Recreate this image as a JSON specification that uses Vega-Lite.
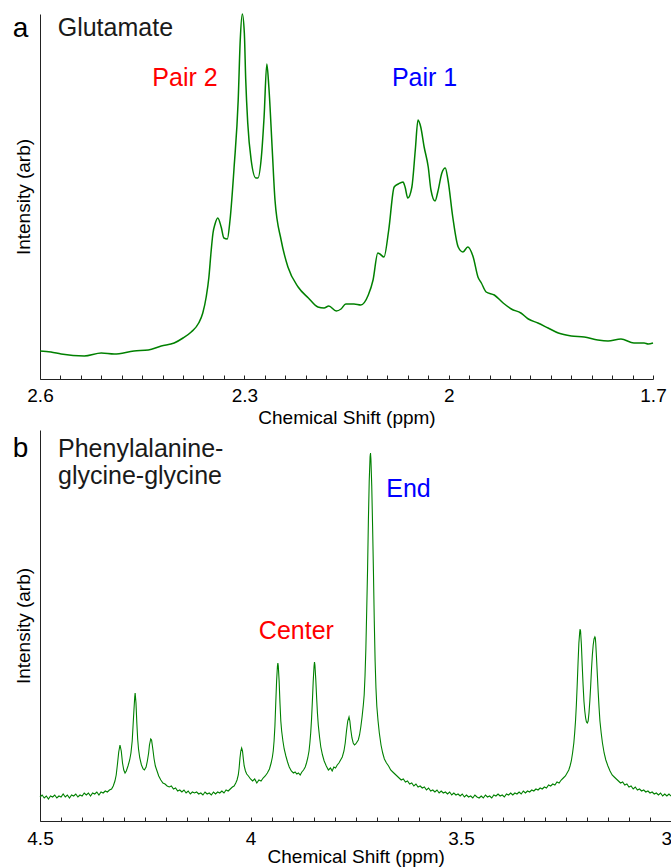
{
  "$schema": "https://vega.github.io/schema/vega-lite/v6.json",
  "padding": {"left": 12, "top": 11, "right": 0, "bottom": 0},
  "bounds": "flush",
  "spacing": 51,
  "config": {"view": {"stroke": null}},
  "datasets": {
    "glu": [
      {"ppm":2.600,"intensity":28},{"ppm":2.584,"intensity":27},{"ppm":2.569,"intensity":25},{"ppm":2.535,"intensity":23},{"ppm":2.510,"intensity":26},{"ppm":2.491,"intensity":25},{"ppm":2.462,"intensity":28},{"ppm":2.441,"intensity":29},{"ppm":2.422,"intensity":33},{"ppm":2.403,"intensity":36},{"ppm":2.390,"intensity":41},{"ppm":2.378,"intensity":47},{"ppm":2.367,"intensity":56},{"ppm":2.361,"intensity":66},{"ppm":2.356,"intensity":82},{"ppm":2.352,"intensity":102},{"ppm":2.349,"intensity":126},{"ppm":2.346,"intensity":146},{"ppm":2.343,"intensity":155},{"ppm":2.339,"intensity":161},{"ppm":2.334,"intensity":152},{"ppm":2.330,"intensity":141},{"ppm":2.325,"intensity":140},{"ppm":2.321,"intensity":159},{"ppm":2.315,"intensity":212},{"ppm":2.309,"intensity":279},{"ppm":2.306,"intensity":339},{"ppm":2.303,"intensity":365},{"ppm":2.300,"intensity":346},{"ppm":2.298,"intensity":300},{"ppm":2.295,"intensity":256},{"ppm":2.290,"intensity":219},{"ppm":2.283,"intensity":201},{"ppm":2.280,"intensity":201},{"ppm":2.275,"intensity":222},{"ppm":2.271,"intensity":262},{"ppm":2.267,"intensity":315},{"ppm":2.264,"intensity":292},{"ppm":2.259,"intensity":229},{"ppm":2.255,"intensity":179},{"ppm":2.246,"intensity":139},{"ppm":2.236,"intensity":112},{"ppm":2.221,"intensity":92},{"ppm":2.206,"intensity":81},{"ppm":2.192,"intensity":72},{"ppm":2.183,"intensity":71},{"ppm":2.176,"intensity":73},{"ppm":2.165,"intensity":68},{"ppm":2.158,"intensity":70},{"ppm":2.151,"intensity":75},{"ppm":2.139,"intensity":75},{"ppm":2.129,"intensity":74},{"ppm":2.118,"intensity":84},{"ppm":2.111,"intensity":99},{"ppm":2.104,"intensity":126},{"ppm":2.101,"intensity":125},{"ppm":2.095,"intensity":122},{"ppm":2.088,"intensity":149},{"ppm":2.080,"intensity":192},{"ppm":2.074,"intensity":195},{"ppm":2.067,"intensity":197},{"ppm":2.064,"intensity":192},{"ppm":2.060,"intensity":181},{"ppm":2.054,"intensity":192},{"ppm":2.049,"intensity":229},{"ppm":2.045,"intensity":259},{"ppm":2.041,"intensity":252},{"ppm":2.036,"intensity":232},{"ppm":2.030,"intensity":212},{"ppm":2.026,"intensity":189},{"ppm":2.020,"intensity":178},{"ppm":2.016,"intensity":187},{"ppm":2.010,"intensity":206},{"ppm":2.005,"intensity":211},{"ppm":2.001,"intensity":199},{"ppm":1.994,"intensity":162},{"ppm":1.986,"intensity":132},{"ppm":1.979,"intensity":127},{"ppm":1.972,"intensity":132},{"ppm":1.964,"intensity":122},{"ppm":1.957,"intensity":102},{"ppm":1.952,"intensity":96},{"ppm":1.945,"intensity":87},{"ppm":1.933,"intensity":84},{"ppm":1.920,"intensity":76},{"ppm":1.908,"intensity":70},{"ppm":1.894,"intensity":66},{"ppm":1.883,"intensity":60},{"ppm":1.869,"intensity":56},{"ppm":1.854,"intensity":51},{"ppm":1.839,"intensity":46},{"ppm":1.820,"intensity":43},{"ppm":1.801,"intensity":42},{"ppm":1.781,"intensity":39},{"ppm":1.766,"intensity":38},{"ppm":1.747,"intensity":40},{"ppm":1.728,"intensity":36},{"ppm":1.713,"intensity":36},{"ppm":1.707,"intensity":35},{"ppm":1.700,"intensity":36}
    ],
    "fgg": [
      {"ppm":4.500,"intensity":24},{"ppm":4.495,"intensity":26},{"ppm":4.490,"intensity":23},{"ppm":4.485,"intensity":25},{"ppm":4.480,"intensity":22},{"ppm":4.475,"intensity":25},{"ppm":4.470,"intensity":24},{"ppm":4.465,"intensity":26},{"ppm":4.460,"intensity":23},{"ppm":4.455,"intensity":25},{"ppm":4.450,"intensity":24},{"ppm":4.445,"intensity":27},{"ppm":4.440,"intensity":24},{"ppm":4.435,"intensity":26},{"ppm":4.430,"intensity":23},{"ppm":4.425,"intensity":26},{"ppm":4.420,"intensity":25},{"ppm":4.415,"intensity":27},{"ppm":4.410,"intensity":24},{"ppm":4.405,"intensity":26},{"ppm":4.400,"intensity":25},{"ppm":4.395,"intensity":28},{"ppm":4.390,"intensity":26},{"ppm":4.385,"intensity":28},{"ppm":4.380,"intensity":25},{"ppm":4.375,"intensity":28},{"ppm":4.370,"intensity":27},{"ppm":4.365,"intensity":29},{"ppm":4.360,"intensity":26},{"ppm":4.355,"intensity":29},{"ppm":4.350,"intensity":28},{"ppm":4.345,"intensity":30},{"ppm":4.340,"intensity":29},{"ppm":4.335,"intensity":31},{"ppm":4.330,"intensity":32},{"ppm":4.326,"intensity":35},{"ppm":4.322,"intensity":40},{"ppm":4.319,"intensity":46},{"ppm":4.316,"intensity":57},{"ppm":4.313,"intensity":69},{"ppm":4.310,"intensity":76},{"ppm":4.307,"intensity":70},{"ppm":4.304,"intensity":58},{"ppm":4.301,"intensity":51},{"ppm":4.298,"intensity":48},{"ppm":4.295,"intensity":50},{"ppm":4.291,"intensity":55},{"ppm":4.287,"intensity":61},{"ppm":4.284,"intensity":68},{"ppm":4.281,"intensity":80},{"ppm":4.279,"intensity":95},{"ppm":4.277,"intensity":110},{"ppm":4.275,"intensity":124},{"ppm":4.274,"intensity":128},{"ppm":4.272,"intensity":118},{"ppm":4.270,"intensity":98},{"ppm":4.268,"intensity":82},{"ppm":4.266,"intensity":72},{"ppm":4.263,"intensity":63},{"ppm":4.259,"intensity":56},{"ppm":4.255,"intensity":52},{"ppm":4.252,"intensity":51},{"ppm":4.248,"intensity":54},{"ppm":4.245,"intensity":60},{"ppm":4.242,"intensity":68},{"ppm":4.240,"intensity":76},{"ppm":4.237,"intensity":82},{"ppm":4.235,"intensity":81},{"ppm":4.232,"intensity":72},{"ppm":4.229,"intensity":62},{"ppm":4.226,"intensity":55},{"ppm":4.222,"intensity":50},{"ppm":4.218,"intensity":45},{"ppm":4.213,"intensity":41},{"ppm":4.208,"intensity":38},{"ppm":4.203,"intensity":37},{"ppm":4.198,"intensity":35},{"ppm":4.193,"intensity":34},{"ppm":4.188,"intensity":35},{"ppm":4.183,"intensity":32},{"ppm":4.178,"intensity":33},{"ppm":4.173,"intensity":30},{"ppm":4.168,"intensity":31},{"ppm":4.163,"intensity":29},{"ppm":4.158,"intensity":31},{"ppm":4.153,"intensity":28},{"ppm":4.148,"intensity":30},{"ppm":4.143,"intensity":27},{"ppm":4.138,"intensity":29},{"ppm":4.133,"intensity":28},{"ppm":4.128,"intensity":29},{"ppm":4.123,"intensity":27},{"ppm":4.118,"intensity":28},{"ppm":4.113,"intensity":26},{"ppm":4.108,"intensity":29},{"ppm":4.103,"intensity":27},{"ppm":4.098,"intensity":28},{"ppm":4.093,"intensity":26},{"ppm":4.088,"intensity":29},{"ppm":4.083,"intensity":27},{"ppm":4.078,"intensity":29},{"ppm":4.073,"intensity":28},{"ppm":4.068,"intensity":30},{"ppm":4.063,"intensity":28},{"ppm":4.058,"intensity":31},{"ppm":4.053,"intensity":30},{"ppm":4.048,"intensity":32},{"ppm":4.043,"intensity":34},{"ppm":4.039,"intensity":35},{"ppm":4.035,"intensity":38},{"ppm":4.032,"intensity":41},{"ppm":4.029,"intensity":46},{"ppm":4.027,"intensity":53},{"ppm":4.025,"intensity":63},{"ppm":4.023,"intensity":70},{"ppm":4.021,"intensity":73},{"ppm":4.019,"intensity":70},{"ppm":4.017,"intensity":62},{"ppm":4.015,"intensity":55},{"ppm":4.012,"intensity":50},{"ppm":4.009,"intensity":47},{"ppm":4.005,"intensity":45},{"ppm":4.000,"intensity":42},{"ppm":3.995,"intensity":40},{"ppm":3.990,"intensity":42},{"ppm":3.985,"intensity":38},{"ppm":3.980,"intensity":41},{"ppm":3.975,"intensity":40},{"ppm":3.970,"intensity":43},{"ppm":3.965,"intensity":45},{"ppm":3.960,"intensity":48},{"ppm":3.955,"intensity":52},{"ppm":3.951,"intensity":58},{"ppm":3.948,"intensity":64},{"ppm":3.946,"intensity":70},{"ppm":3.944,"intensity":80},{"ppm":3.942,"intensity":95},{"ppm":3.940,"intensity":118},{"ppm":3.938,"intensity":140},{"ppm":3.936,"intensity":155},{"ppm":3.935,"intensity":158},{"ppm":3.934,"intensity":155},{"ppm":3.932,"intensity":140},{"ppm":3.930,"intensity":118},{"ppm":3.928,"intensity":100},{"ppm":3.926,"intensity":90},{"ppm":3.923,"intensity":80},{"ppm":3.920,"intensity":72},{"ppm":3.916,"intensity":65},{"ppm":3.912,"intensity":59},{"ppm":3.908,"intensity":54},{"ppm":3.903,"intensity":50},{"ppm":3.898,"intensity":48},{"ppm":3.894,"intensity":49},{"ppm":3.890,"intensity":47},{"ppm":3.886,"intensity":48},{"ppm":3.882,"intensity":46},{"ppm":3.878,"intensity":49},{"ppm":3.874,"intensity":51},{"ppm":3.870,"intensity":54},{"ppm":3.867,"intensity":58},{"ppm":3.864,"intensity":63},{"ppm":3.861,"intensity":70},{"ppm":3.859,"intensity":78},{"ppm":3.857,"intensity":88},{"ppm":3.855,"intensity":102},{"ppm":3.853,"intensity":120},{"ppm":3.851,"intensity":140},{"ppm":3.849,"intensity":155},{"ppm":3.848,"intensity":159},{"ppm":3.847,"intensity":156},{"ppm":3.845,"intensity":142},{"ppm":3.843,"intensity":124},{"ppm":3.841,"intensity":108},{"ppm":3.839,"intensity":96},{"ppm":3.836,"intensity":84},{"ppm":3.833,"intensity":74},{"ppm":3.829,"intensity":66},{"ppm":3.825,"intensity":60},{"ppm":3.820,"intensity":55},{"ppm":3.815,"intensity":51},{"ppm":3.810,"intensity":53},{"ppm":3.806,"intensity":50},{"ppm":3.802,"intensity":54},{"ppm":3.798,"intensity":53},{"ppm":3.794,"intensity":56},{"ppm":3.790,"intensity":58},{"ppm":3.786,"intensity":61},{"ppm":3.782,"intensity":64},{"ppm":3.778,"intensity":70},{"ppm":3.775,"intensity":78},{"ppm":3.772,"intensity":90},{"ppm":3.769,"intensity":100},{"ppm":3.766,"intensity":104},{"ppm":3.764,"intensity":100},{"ppm":3.762,"intensity":92},{"ppm":3.759,"intensity":83},{"ppm":3.756,"intensity":78},{"ppm":3.753,"intensity":76},{"ppm":3.750,"intensity":77},{"ppm":3.747,"intensity":79},{"ppm":3.744,"intensity":81},{"ppm":3.741,"intensity":86},{"ppm":3.738,"intensity":94},{"ppm":3.735,"intensity":104},{"ppm":3.732,"intensity":116},{"ppm":3.730,"intensity":126},{"ppm":3.728,"intensity":145},{"ppm":3.726,"intensity":172},{"ppm":3.724,"intensity":210},{"ppm":3.722,"intensity":250},{"ppm":3.720,"intensity":300},{"ppm":3.718,"intensity":340},{"ppm":3.716,"intensity":364},{"ppm":3.715,"intensity":368},{"ppm":3.714,"intensity":362},{"ppm":3.712,"intensity":335},{"ppm":3.710,"intensity":295},{"ppm":3.708,"intensity":250},{"ppm":3.706,"intensity":200},{"ppm":3.704,"intensity":160},{"ppm":3.702,"intensity":133},{"ppm":3.700,"intensity":115},{"ppm":3.697,"intensity":100},{"ppm":3.694,"intensity":88},{"ppm":3.690,"intensity":76},{"ppm":3.686,"intensity":68},{"ppm":3.682,"intensity":62},{"ppm":3.677,"intensity":58},{"ppm":3.672,"intensity":55},{"ppm":3.667,"intensity":51},{"ppm":3.662,"intensity":49},{"ppm":3.657,"intensity":47},{"ppm":3.652,"intensity":45},{"ppm":3.647,"intensity":43},{"ppm":3.642,"intensity":41},{"ppm":3.637,"intensity":42},{"ppm":3.632,"intensity":39},{"ppm":3.627,"intensity":40},{"ppm":3.622,"intensity":37},{"ppm":3.617,"intensity":38},{"ppm":3.612,"intensity":35},{"ppm":3.607,"intensity":37},{"ppm":3.602,"intensity":34},{"ppm":3.597,"intensity":35},{"ppm":3.592,"intensity":33},{"ppm":3.587,"intensity":34},{"ppm":3.582,"intensity":31},{"ppm":3.577,"intensity":33},{"ppm":3.572,"intensity":30},{"ppm":3.567,"intensity":31},{"ppm":3.562,"intensity":29},{"ppm":3.557,"intensity":31},{"ppm":3.552,"intensity":28},{"ppm":3.547,"intensity":30},{"ppm":3.542,"intensity":28},{"ppm":3.537,"intensity":29},{"ppm":3.532,"intensity":27},{"ppm":3.527,"intensity":29},{"ppm":3.522,"intensity":26},{"ppm":3.517,"intensity":28},{"ppm":3.512,"intensity":26},{"ppm":3.507,"intensity":27},{"ppm":3.502,"intensity":25},{"ppm":3.497,"intensity":27},{"ppm":3.492,"intensity":24},{"ppm":3.487,"intensity":26},{"ppm":3.482,"intensity":24},{"ppm":3.477,"intensity":25},{"ppm":3.472,"intensity":23},{"ppm":3.467,"intensity":26},{"ppm":3.462,"intensity":24},{"ppm":3.457,"intensity":23},{"ppm":3.452,"intensity":25},{"ppm":3.447,"intensity":23},{"ppm":3.442,"intensity":26},{"ppm":3.437,"intensity":24},{"ppm":3.432,"intensity":25},{"ppm":3.427,"intensity":23},{"ppm":3.422,"intensity":26},{"ppm":3.417,"intensity":25},{"ppm":3.412,"intensity":27},{"ppm":3.407,"intensity":25},{"ppm":3.402,"intensity":26},{"ppm":3.397,"intensity":24},{"ppm":3.392,"intensity":27},{"ppm":3.387,"intensity":26},{"ppm":3.382,"intensity":28},{"ppm":3.377,"intensity":26},{"ppm":3.372,"intensity":28},{"ppm":3.367,"intensity":27},{"ppm":3.362,"intensity":29},{"ppm":3.357,"intensity":27},{"ppm":3.352,"intensity":30},{"ppm":3.347,"intensity":28},{"ppm":3.342,"intensity":30},{"ppm":3.337,"intensity":29},{"ppm":3.332,"intensity":31},{"ppm":3.327,"intensity":30},{"ppm":3.322,"intensity":32},{"ppm":3.317,"intensity":31},{"ppm":3.312,"intensity":33},{"ppm":3.307,"intensity":32},{"ppm":3.302,"intensity":34},{"ppm":3.297,"intensity":33},{"ppm":3.292,"intensity":36},{"ppm":3.287,"intensity":35},{"ppm":3.282,"intensity":37},{"ppm":3.277,"intensity":36},{"ppm":3.272,"intensity":39},{"ppm":3.267,"intensity":38},{"ppm":3.262,"intensity":41},{"ppm":3.257,"intensity":43},{"ppm":3.252,"intensity":45},{"ppm":3.248,"intensity":48},{"ppm":3.244,"intensity":51},{"ppm":3.241,"intensity":55},{"ppm":3.238,"intensity":60},{"ppm":3.235,"intensity":68},{"ppm":3.232,"intensity":78},{"ppm":3.230,"intensity":88},{"ppm":3.228,"intensity":100},{"ppm":3.226,"intensity":116},{"ppm":3.224,"intensity":136},{"ppm":3.222,"intensity":158},{"ppm":3.220,"intensity":178},{"ppm":3.218,"intensity":189},{"ppm":3.217,"intensity":192},{"ppm":3.216,"intensity":190},{"ppm":3.214,"intensity":176},{"ppm":3.212,"intensity":155},{"ppm":3.210,"intensity":136},{"ppm":3.208,"intensity":120},{"ppm":3.206,"intensity":110},{"ppm":3.204,"intensity":103},{"ppm":3.202,"intensity":99},{"ppm":3.200,"intensity":98},{"ppm":3.198,"intensity":100},{"ppm":3.196,"intensity":108},{"ppm":3.194,"intensity":120},{"ppm":3.192,"intensity":135},{"ppm":3.190,"intensity":152},{"ppm":3.188,"intensity":166},{"ppm":3.186,"intensity":176},{"ppm":3.184,"intensity":182},{"ppm":3.182,"intensity":184},{"ppm":3.181,"intensity":183},{"ppm":3.180,"intensity":178},{"ppm":3.178,"intensity":162},{"ppm":3.176,"intensity":145},{"ppm":3.174,"intensity":128},{"ppm":3.172,"intensity":113},{"ppm":3.170,"intensity":100},{"ppm":3.167,"intensity":88},{"ppm":3.164,"intensity":78},{"ppm":3.160,"intensity":68},{"ppm":3.156,"intensity":61},{"ppm":3.151,"intensity":55},{"ppm":3.146,"intensity":50},{"ppm":3.141,"intensity":46},{"ppm":3.136,"intensity":44},{"ppm":3.131,"intensity":42},{"ppm":3.126,"intensity":40},{"ppm":3.121,"intensity":38},{"ppm":3.116,"intensity":39},{"ppm":3.111,"intensity":36},{"ppm":3.106,"intensity":37},{"ppm":3.101,"intensity":34},{"ppm":3.096,"intensity":35},{"ppm":3.091,"intensity":32},{"ppm":3.086,"intensity":34},{"ppm":3.081,"intensity":31},{"ppm":3.076,"intensity":32},{"ppm":3.071,"intensity":30},{"ppm":3.066,"intensity":31},{"ppm":3.061,"intensity":29},{"ppm":3.056,"intensity":30},{"ppm":3.051,"intensity":28},{"ppm":3.046,"intensity":29},{"ppm":3.041,"intensity":27},{"ppm":3.036,"intensity":28},{"ppm":3.031,"intensity":26},{"ppm":3.026,"intensity":28},{"ppm":3.021,"intensity":25},{"ppm":3.016,"intensity":27},{"ppm":3.011,"intensity":25},{"ppm":3.006,"intensity":27},{"ppm":3.001,"intensity":25}
    ]
  },
  "vconcat": [
    {
      "width": 613,
      "height": 365,
      "encoding": {
        "x": {
          "field": "ppm", "type": "quantitative",
          "scale": {"domain": [1.7, 2.6], "reverse": true, "nice": false, "zero": false},
          "axis": {
            "values": [2.6,2.57,2.54,2.51,2.48,2.45,2.42,2.39,2.36,2.33,2.3,2.27,2.24,2.21,2.18,2.15,2.12,2.09,2.06,2.03,2,1.97,1.94,1.91,1.88,1.85,1.82,1.79,1.76,1.73,1.7],
            "title": "Chemical Shift (ppm)",
            "grid": false,
            "tickSize": -4,
            "tickColor": "#222",
            "tickWidth": 1,
            "domainColor": "#222",
            "domainWidth": 1,
            "labelPadding": 11,
            "labelFlush": false,
            "labelOverlap": false,
            "labelFont": "Liberation Sans",
            "labelFontSize": 19,
            "labelColor": "#000",
            "labelExpr": "indexof([2.6,2.3,2,1.7], datum.value) >= 0 ? '' + datum.value : ''",
            "titleFont": "Liberation Sans",
            "titleFontSize": 19,
            "titleFontWeight": "normal",
            "titleColor": "#000",
            "titleBaseline": "alphabetic",
            "titleY": 44.5,
            "encode": {"ticks": {"update": {"y2": [{"test": "indexof([2.6,2.3,2,1.7], datum.value) >= 0", "value": -7}, {"value": -4}]}}}
          }
        },
        "y": {
          "field": "intensity", "type": "quantitative",
          "scale": {"domain": [0, 365], "nice": false},
          "axis": {
            "title": "Intensity (arb)",
            "ticks": false, "labels": false, "grid": false,
            "domainColor": "#222", "domainWidth": 1,
            "titleFont": "Liberation Sans", "titleFontSize": 19, "titleFontWeight": "normal", "titleColor": "#000",
            "titlePadding": 7
          }
        }
      },
      "layer": [
        {"data": {"name": "glu"}, "mark": {"type": "line", "color": "#008000", "strokeWidth": 1.5, "interpolate": "monotone"}},
        {"data": {"values": [{"ppm": 2.6286, "intensity": 342.5, "label": "a"}]},
         "mark": {"type": "text", "font": "Liberation Sans", "fontSize": 28, "align": "center", "baseline": "alphabetic", "color": "#000"},
         "encoding": {"text": {"field": "label"}}},
        {"data": {"values": [{"ppm": 2.574, "intensity": 343, "label": "Glutamate"}]},
         "mark": {"type": "text", "font": "Liberation Sans", "fontSize": 25, "align": "left", "baseline": "alphabetic", "color": "#1a1a1a"},
         "encoding": {"text": {"field": "label"}}},
        {"data": {"values": [{"ppm": 2.3871, "intensity": 293, "label": "Pair 2"}]},
         "mark": {"type": "text", "font": "Liberation Sans", "fontSize": 25, "align": "center", "baseline": "alphabetic", "color": "#ff0000"},
         "encoding": {"text": {"field": "label"}}},
        {"data": {"values": [{"ppm": 2.0354, "intensity": 293, "label": "Pair 1"}]},
         "mark": {"type": "text", "font": "Liberation Sans", "fontSize": 25, "align": "center", "baseline": "alphabetic", "color": "#0000ff"},
         "encoding": {"text": {"field": "label"}}}
      ]
    },
    {
      "width": 631.5,
      "height": 391,
      "encoding": {
        "x": {
          "field": "ppm", "type": "quantitative",
          "scale": {"domain": [3, 4.5], "reverse": true, "nice": false, "zero": false},
          "axis": {
            "values": [4.5,4.45,4.4,4.35,4.3,4.25,4.2,4.15,4.1,4.05,4,3.95,3.9,3.85,3.8,3.75,3.7,3.65,3.6,3.55,3.5,3.45,3.4,3.35,3.3,3.25,3.2,3.15,3.1,3.05,3],
            "title": "Chemical Shift (ppm)",
            "grid": false,
            "tickSize": -4,
            "tickColor": "#222",
            "tickWidth": 1,
            "domainColor": "#222",
            "domainWidth": 1,
            "labelPadding": 12,
            "labelFlush": false,
            "labelOverlap": false,
            "labelFont": "Liberation Sans",
            "labelFontSize": 19,
            "labelColor": "#000",
            "labelAlign": {"condition": {"test": "datum.value == 3", "value": "right"}, "value": "center"},
            "labelExpr": "indexof([4.5,4,3.5,3], datum.value) >= 0 ? '' + datum.value : ''",
            "titleFont": "Liberation Sans",
            "titleFontSize": 19,
            "titleFontWeight": "normal",
            "titleColor": "#000",
            "titleBaseline": "alphabetic",
            "titleY": 41.5,
            "encode": {"ticks": {"update": {"y2": [{"test": "indexof([4.5,4,3.5,3], datum.value) >= 0", "value": -7}, {"value": -4}]}}}
          }
        },
        "y": {
          "field": "intensity", "type": "quantitative",
          "scale": {"domain": [0, 391], "nice": false},
          "axis": {
            "title": "Intensity (arb)",
            "ticks": false, "labels": false, "grid": false,
            "domainColor": "#222", "domainWidth": 1,
            "titleFont": "Liberation Sans", "titleFontSize": 19, "titleFontWeight": "normal", "titleColor": "#000",
            "titlePadding": 7
          }
        }
      },
      "layer": [
        {"data": {"name": "fgg"}, "mark": {"type": "line", "color": "#008000", "strokeWidth": 1.1}},
        {"data": {"values": [{"ppm": 4.5463, "intensity": 364.3, "label": "b"}]},
         "mark": {"type": "text", "font": "Liberation Sans", "fontSize": 28, "align": "center", "baseline": "alphabetic", "color": "#000"},
         "encoding": {"text": {"field": "label"}}},
        {"data": {"values": [{"ppm": 4.4572, "intensity": 364.5, "label": "Phenylalanine-\nglycine-glycine"}]},
         "mark": {"type": "text", "font": "Liberation Sans", "fontSize": 25, "align": "left", "baseline": "alphabetic", "lineBreak": "\n", "lineHeight": 27, "color": "#1a1a1a"},
         "encoding": {"text": {"field": "label"}}},
        {"data": {"values": [{"ppm": 3.891, "intensity": 182, "label": "Center"}]},
         "mark": {"type": "text", "font": "Liberation Sans", "fontSize": 25, "align": "center", "baseline": "alphabetic", "color": "#ff0000"},
         "encoding": {"text": {"field": "label"}}},
        {"data": {"values": [{"ppm": 3.6247, "intensity": 324.3, "label": "End"}]},
         "mark": {"type": "text", "font": "Liberation Sans", "fontSize": 25, "align": "center", "baseline": "alphabetic", "color": "#0000ff"},
         "encoding": {"text": {"field": "label"}}}
      ]
    }
  ]
}
